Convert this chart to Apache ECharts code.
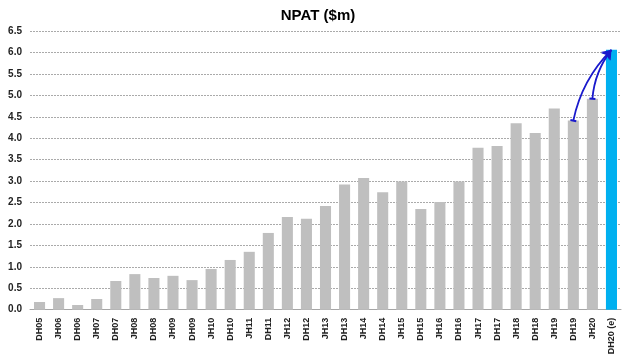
<!DOCTYPE html>
<html>
<head>
<meta charset="utf-8">
<script src="https://cdn.jsdelivr.net/npm/echarts@6/dist/echarts.min.js"></script>
<style>
html,body{margin:0;padding:0;background:#fff;}
#chart{width:636px;height:363px;}
</style>
</head>
<body>
<div id="chart"></div>
<script>
const titleText = 'NPAT ($m)';
const categories = ['DH05','JH06','DH06','JH07','DH07','JH08','DH08','JH09','DH09','JH10','DH10','JH11','DH11','JH12','DH12','JH13','DH13','JH14','DH14','JH15','DH15','JH16','DH16','JH17','DH17','JH18','DH18','JH19','DH19','JH20','DH20 (e)'];
const npat = [0.18,0.27,0.11,0.25,0.67,0.83,0.74,0.79,0.69,0.95,1.16,1.35,1.79,2.16,2.12,2.42,2.92,3.07,2.74,2.99,2.35,2.51,2.99,3.78,3.82,4.35,4.12,4.69,4.41,4.92,6.06];
const estimateIndex = categories.length - 1;
const yMin = 0, yMax = 6.5, yStep = 0.5;
// annotation arrows: from these bars to the estimate bar
const arrowFrom = ['DH19','JH20'];

const chart = echarts.init(document.getElementById('chart'));
const fnt = 'Liberation Sans';
const barData = npat.map((v,i)=> i===estimateIndex ? {value:v, itemStyle:{color:'#00B0F0'}} : v);
const arrowLines = arrowFrom.map(c=>{
  const i = categories.indexOf(c);
  return {coords:[[i, npat[i]],[estimateIndex, npat[estimateIndex]]]};
});
chart.setOption({
  animation:false,
  title:{text:titleText,left:'center',top:3,textStyle:{fontFamily:fnt,fontWeight:'bold',fontSize:15,color:'#000'}},
  grid:{left:30,right:15,top:31,bottom:53.3},
  xAxis:{type:'category',data:categories,
    axisLine:{lineStyle:{color:'#A6A6A6'}},axisTick:{show:false},
    axisLabel:{rotate:90,interval:0,fontFamily:fnt,fontWeight:'bold',fontSize:9,color:'#222',margin:8}},
  yAxis:{type:'value',min:yMin,max:yMax,interval:yStep,
    axisLine:{show:false},axisTick:{show:false},
    axisLabel:{formatter:v=>v.toFixed(1),fontFamily:fnt,fontWeight:'bold',fontSize:10,color:'#222',margin:8},
    splitLine:{lineStyle:{color:'#AAAAAA',type:[2,1],width:1}}},
  series:[
    {type:'bar',data:barData,barCategoryGap:'42%',itemStyle:{color:'#BFBFBF'}},
    {type:'lines',coordinateSystem:'cartesian2d',silent:true,z:5,
      symbol:['rect','arrow'],symbolSize:[[6,2],9],
      lineStyle:{color:'#1A1ACC',width:1.8,opacity:1,curveness:0.15},
      data:arrowLines}
  ]
});
</script>
</body>
</html>
